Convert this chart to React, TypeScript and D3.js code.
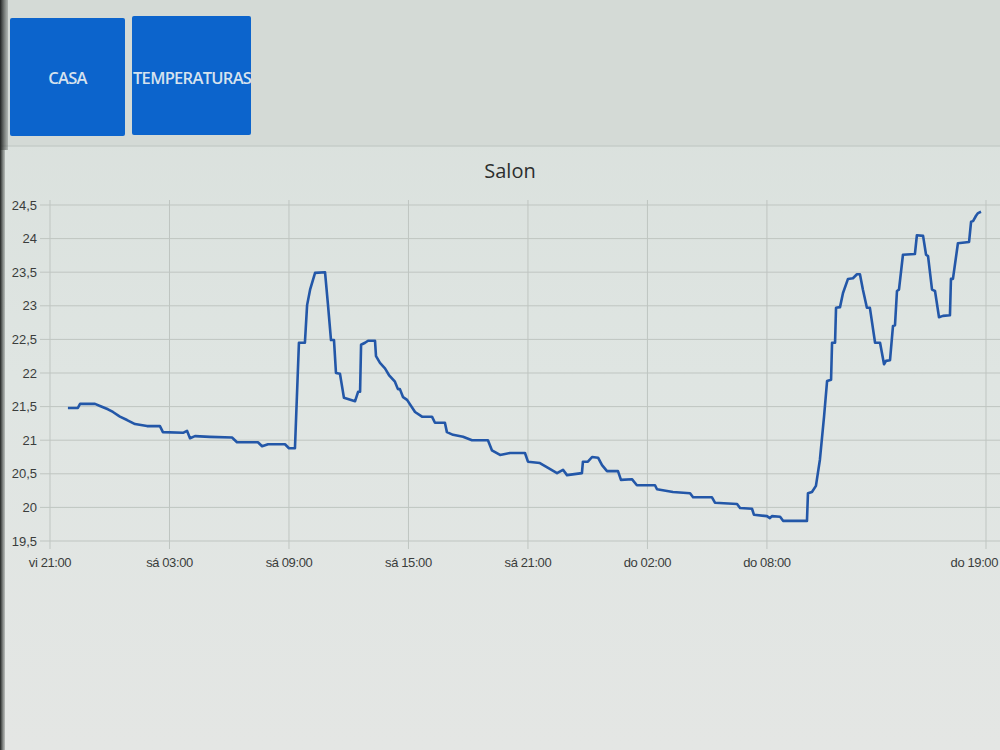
import React from "react";
import * as d3 from "d3";

const hours: number[] = [0.90,1.40,1.51,2.26,2.51,2.91,3.16,3.51,3.87,4.27,4.87,5.52,5.67,6.68,6.88,7.03,7.28,8.03,9.14,9.39,10.44,10.65,10.95,11.80,12.00,12.30,12.50,12.80,12.91,13.06,13.31,13.81,13.96,14.11,14.26,14.36,14.56,14.76,15.32,15.47,15.57,15.62,15.82,15.97,16.32,16.37,16.57,16.82,17.02,17.32,17.47,17.57,17.73,17.93,18.33,18.68,19.18,19.33,19.83,19.93,20.24,20.74,21.19,21.99,22.19,22.60,23.10,23.85,24.00,24.60,25.01,25.46,25.76,25.96,26.71,26.76,27.01,27.22,27.52,27.72,27.97,28.52,28.67,29.22,29.47,30.38,30.48,31.28,32.14,32.29,33.24,33.39,34.50,34.65,35.25,35.35,36.00,36.15,36.25,36.66,36.81,38.01,38.06,38.26,38.46,38.66,38.87,39.02,39.22,39.27,39.42,39.47,39.67,39.82,40.07,40.32,40.52,40.67,40.82,41.02,41.17,41.43,41.68,41.88,41.98,42.18,42.33,42.43,42.53,42.63,42.83,43.43,43.53,43.84,43.99,44.09,44.29,44.44,44.64,44.84,45.19,45.24,45.34,45.59,46.15,46.25,46.35,46.50,46.60,46.75];
const temps: number[] = [21.48,21.48,21.54,21.54,21.51,21.46,21.42,21.35,21.30,21.24,21.21,21.21,21.12,21.11,21.14,21.03,21.06,21.05,21.04,20.97,20.97,20.91,20.94,20.94,20.88,20.88,22.45,22.45,23.01,23.24,23.49,23.50,23.01,22.49,22.49,22.00,21.99,21.63,21.58,21.72,21.72,22.42,22.45,22.48,22.48,22.25,22.15,22.07,21.97,21.87,21.76,21.76,21.64,21.60,21.42,21.35,21.35,21.26,21.26,21.12,21.08,21.05,21.00,21.00,20.85,20.78,20.81,20.81,20.68,20.66,20.59,20.51,20.56,20.48,20.51,20.68,20.68,20.75,20.74,20.63,20.54,20.54,20.41,20.42,20.33,20.33,20.27,20.23,20.21,20.15,20.15,20.07,20.05,19.99,19.98,19.89,19.87,19.84,19.87,19.86,19.80,19.80,20.21,20.23,20.32,20.71,21.36,21.88,21.90,22.45,22.45,22.97,22.98,23.19,23.40,23.41,23.47,23.47,23.24,22.97,22.97,22.45,22.45,22.13,22.18,22.19,22.70,22.71,23.22,23.24,23.76,23.77,24.05,24.04,23.76,23.74,23.24,23.22,22.83,22.85,22.86,23.40,23.40,23.93,23.95,24.25,24.26,24.34,24.38,24.40];

const xTickHours: number[] = [0, 6, 12, 18, 24, 30, 36, 47];
const xTickLabels: string[] = ["vi 21:00", "sá 03:00", "sá 09:00", "sá 15:00", "sá 21:00", "do 02:00", "do 08:00", "do 19:00"];
const yTicks: number[] = [19.5, 20, 20.5, 21, 21.5, 22, 22.5, 23, 23.5, 24, 24.5];
const buttons: string[] = ["CASA", "TEMPERATURAS"];
const chartTitle = "Salon";

export default function App() {
  const W = 1000, H = 750;
  const x = d3.scaleLinear().domain([0, 47]).range([50, 986]);
  const y = d3.scaleLinear().domain([19.5, 24.5]).range([541, 205]);
  const pts = hours.map((h, i) => [h, temps[i]] as [number, number]);
  const line = d3.line<[number, number]>().x(d => x(d[0])).y(d => y(d[1])).curve(d3.curveLinear);
  const fmt = (v: number) => String(v).replace(".", ",");
  const btnX = [10, 132];
  const btnW = [115, 119];
  return (
    <div style={{ position: "fixed", left: 0, top: 0 }}>
      <svg width={W} height={H} style={{ display: "block" }}>
        <defs>
          <linearGradient id="bg" x1="0" y1="0" x2="0" y2="1">
            <stop offset="0" stopColor="#d8dfdb" />
            <stop offset="0.5" stopColor="#dfe5e2" />
            <stop offset="1" stopColor="#e4e6e4" />
          </linearGradient>
          <linearGradient id="edge" x1="0" y1="0" x2="1" y2="0">
            <stop offset="0" stopColor="#1e2120" />
            <stop offset="1" stopColor="#5a5f5c" stopOpacity="0.3" />
          </linearGradient>
          <clipPath id="btn1"><rect x={btnX[1]} y={16} width={btnW[1]} height={119} /></clipPath>
        </defs>
        <rect x={0} y={0} width={W} height={H} fill="url(#bg)" />
        <rect x={0} y={0} width={W} height={146} fill="#d4dad6" />
        <line x1={0} x2={W} y1={146} y2={146} stroke="#c6ccc8" strokeWidth={1.5} />
        <rect x={0} y={0} width={8} height={150} fill="url(#edge)" />
        <rect x={0} y={150} width={5} height={H - 150} fill="url(#edge)" />

        {buttons.map((b, i) => (
          <g key={b}>
            <rect x={btnX[i]} y={i === 0 ? 18 : 16} width={btnW[i]} height={i === 0 ? 118 : 119} rx={2} fill="#0c64cc" />
            <text
              x={i === 0 ? btnX[i] + btnW[i] / 2 : btnX[i] + 1}
              y={84}
              textAnchor={i === 0 ? "middle" : "start"}
              fontFamily="'Open Sans', 'Noto Sans', sans-serif"
              fontSize={16.5}
              fontWeight={600}
              letterSpacing={-0.7}
              fill="#d6e2ee"
              clipPath={i === 1 ? "url(#btn1)" : undefined}
            >{b}</text>
          </g>
        ))}

        <text x={510} y={178} textAnchor="middle" fontFamily="'Open Sans', 'Noto Sans', sans-serif" fontSize={20} fill="#2c2f2e">{chartTitle}</text>

        {yTicks.map(t => (
          <g key={t}>
            <line x1={40} x2={W} y1={y(t)} y2={y(t)} stroke="#bfc5c1" strokeWidth={1} />
            <text x={37} y={y(t) + 4.5} textAnchor="end" fontFamily="'Liberation Sans', Arial, sans-serif" fontSize={13} fill="#3a3d3c">{fmt(t)}</text>
          </g>
        ))}
        {xTickHours.map((h, i) => {
          const last = i === xTickHours.length - 1;
          return (
            <g key={h}>
              <line x1={x(h)} x2={x(h)} y1={200} y2={549} stroke="#bfc5c1" strokeWidth={1} />
              <text x={last ? W - 2 : x(h)} y={567} textAnchor={last ? "end" : "middle"} fontFamily="'Liberation Sans', Arial, sans-serif" fontSize={13} letterSpacing={-0.4} fill="#3a3d3c">{xTickLabels[i]}</text>
            </g>
          );
        })}

        <path d={line(pts) || ""} fill="none" stroke="#2357a8" strokeWidth={2.6} strokeLinejoin="round" />
      </svg>
    </div>
  );
}
